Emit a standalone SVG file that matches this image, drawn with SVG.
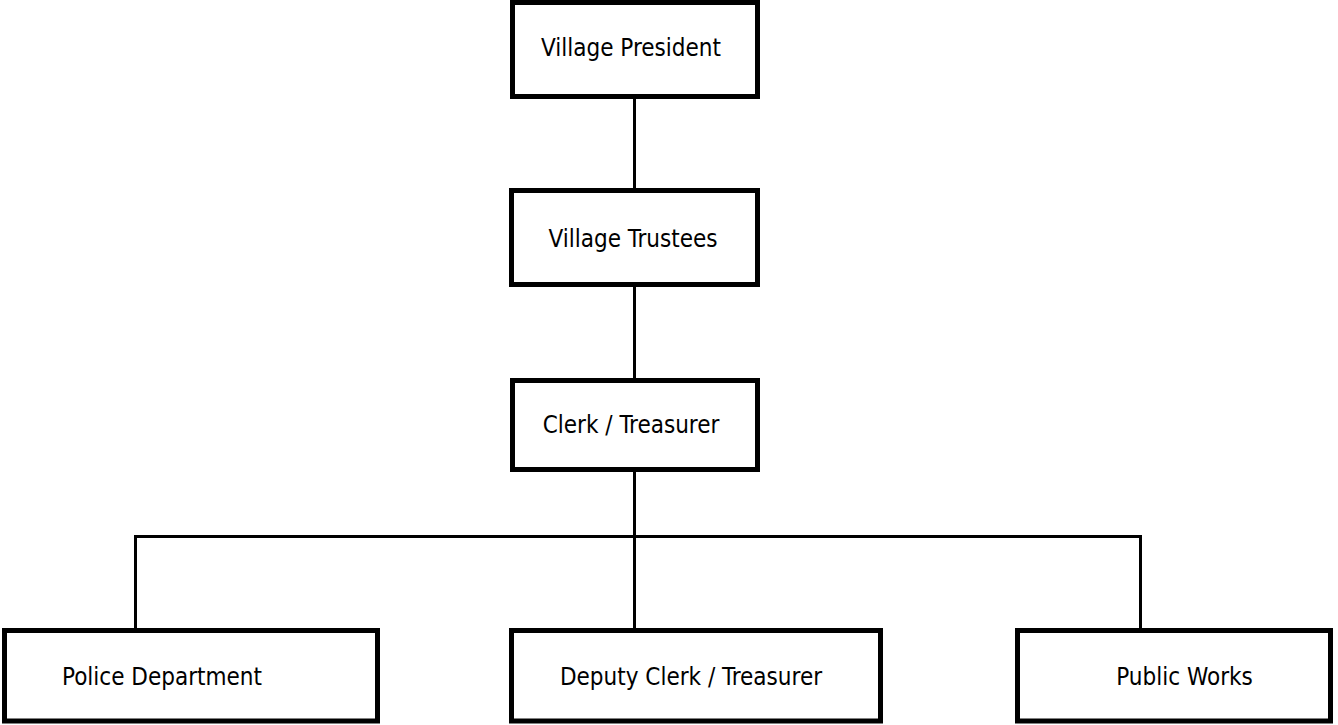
<svg xmlns="http://www.w3.org/2000/svg" width="1338" height="725" viewBox="0 0 1338 725">
  <style>
    .box { fill: #ffffff; stroke: #000000; stroke-width: 5; }
    .lbl { font-family: 'DejaVu Sans Condensed', 'DejaVu Sans', sans-serif; font-size: 24px; fill: #000000; }
    .conn { fill: none; stroke: #000000; stroke-width: 3; }
  </style>
  <rect width="1338" height="725" fill="#ffffff"/>
  <g id="connectors">
    <line class="conn" x1="634.5" y1="98" x2="634.5" y2="189"/>
    <line class="conn" x1="634.5" y1="286" x2="634.5" y2="379"/>
    <line class="conn" x1="634.5" y1="471" x2="634.5" y2="536.5"/>
    <polyline class="conn" points="135.5,629 135.5,536.5 1140.5,536.5 1140.5,629"/>
    <line class="conn" x1="634.5" y1="536.5" x2="634.5" y2="629"/>
  </g>
  <g id="village-president">
    <rect class="box" x="512.5" y="2.5" width="245" height="94"/>
    <text class="lbl" x="631" y="56" text-anchor="middle">Village President</text>
  </g>
  <g id="village-trustees">
    <rect class="box" x="511.5" y="190.5" width="246" height="94"/>
    <text class="lbl" x="633" y="247" text-anchor="middle">Village Trustees</text>
  </g>
  <g id="clerk-treasurer">
    <rect class="box" x="512.5" y="380.5" width="245" height="89"/>
    <text class="lbl" x="631" y="433" text-anchor="middle">Clerk / Treasurer</text>
  </g>
  <g id="police-department">
    <rect class="box" x="4.5" y="630.5" width="373" height="90.5"/>
    <text class="lbl" x="162" y="685" text-anchor="middle">Police Department</text>
  </g>
  <g id="deputy-clerk-treasurer">
    <rect class="box" x="511.5" y="630.5" width="369" height="90.5"/>
    <text class="lbl" x="691" y="685" text-anchor="middle">Deputy Clerk / Treasurer</text>
  </g>
  <g id="public-works">
    <rect class="box" x="1017.5" y="630.5" width="313" height="90.5"/>
    <text class="lbl" x="1184.5" y="685" text-anchor="middle">Public Works</text>
  </g>
</svg>
